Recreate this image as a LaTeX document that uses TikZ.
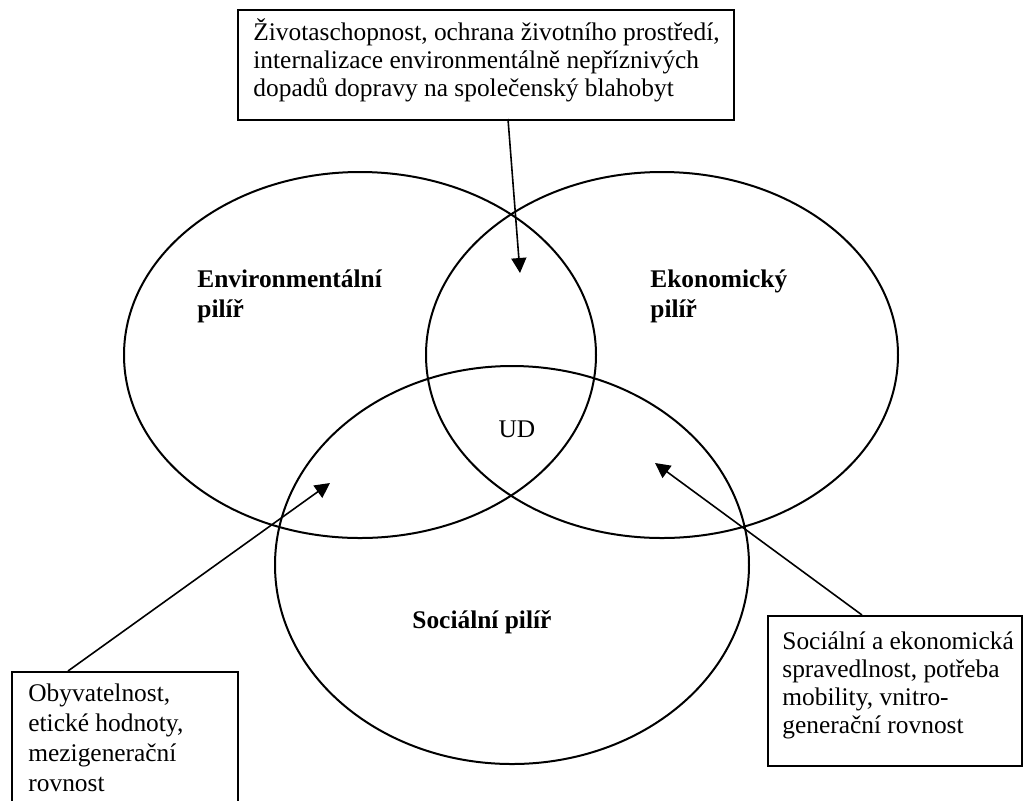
\documentclass[tikz,border=0pt]{standalone}
\usepackage{fontspec}
\setmainfont{Liberation Serif}
\usetikzlibrary{shapes.geometric,arrows.meta,calc}
\begin{document}
\begin{tikzpicture}[x=0.5pt,y=-0.5pt,
  pillar/.style={draw,ellipse,line width=1pt,inner sep=0pt},
  infobox/.style={draw,line width=0.9pt,rectangle,inner sep=0pt,anchor=north west},
  infotext/.style={anchor=north west,align=left,inner sep=0pt,font=\fontsize{12.7pt}{14pt}\selectfont},
  pillarlabel/.style={anchor=north west,align=left,inner sep=0pt,font=\fontsize{12.7pt}{15pt}\selectfont\bfseries},
  pointer/.style={line width=0.8pt,-{Triangle[length=7.5pt,width=7.5pt]}}]
\useasboundingbox (0,0) rectangle (1024,800);
% ellipses
\node[pillar,minimum width=236pt,minimum height=183pt] (env) at (360,355) {};
\node[pillar,minimum width=236pt,minimum height=183pt] (eco) at (662,355) {};
\node[pillar,minimum width=237pt,minimum height=199pt] (soc) at (512,565) {};
% pillar labels
\node[pillarlabel] (envl) at (197,269) {Environmentální\\pilíř};
\node[pillarlabel] (ecol) at (650,269) {Ekonomický\\pilíř};
\node[pillarlabel] (socl) at (412,610) {Sociální pilíř};
\node[font=\fontsize{12.7pt}{14pt}\selectfont,inner sep=0pt] (ud) at (517,429) {UD};
% boxes
\node[infobox,minimum width=248pt,minimum height=55pt] (topbox) at (237,9) {};
\node[infotext] (toptext) at (253,18) {Životaschopnost, ochrana životního prostředí,\\internalizace environmentálně nepříznivých\\dopadů dopravy na společenský blahobyt};
\node[infobox,minimum width=113pt,minimum height=80pt] (leftbox) at (11,671) {};
\node[infotext,font=\fontsize{12.7pt}{15pt}\selectfont] (lefttext) at (28,683) {Obyvatelnost,\\etické hodnoty,\\mezigenerační\\rovnost};
\node[infobox,minimum width=127pt,minimum height=75pt] (rightbox) at (767,615) {};
\node[infotext] (righttext) at (782,631) {Sociální a ekonomická\\spravedlnost, potřeba\\mobility, vnitro-\\generační rovnost};
% pointer coordinates
\coordinate (p1s) at (508,119);
\coordinate (p1e) at (520,273);
\coordinate (p2s) at (68,671);
\coordinate (p2e) at (330,483);
\coordinate (p3s) at (862,615);
\coordinate (p3e) at (655,463);
\draw[pointer] (p1s) -- (p1e);
\draw[pointer] (p2s) -- (p2e);
\draw[pointer] (p3s) -- (p3e);
\end{tikzpicture}
\end{document}
